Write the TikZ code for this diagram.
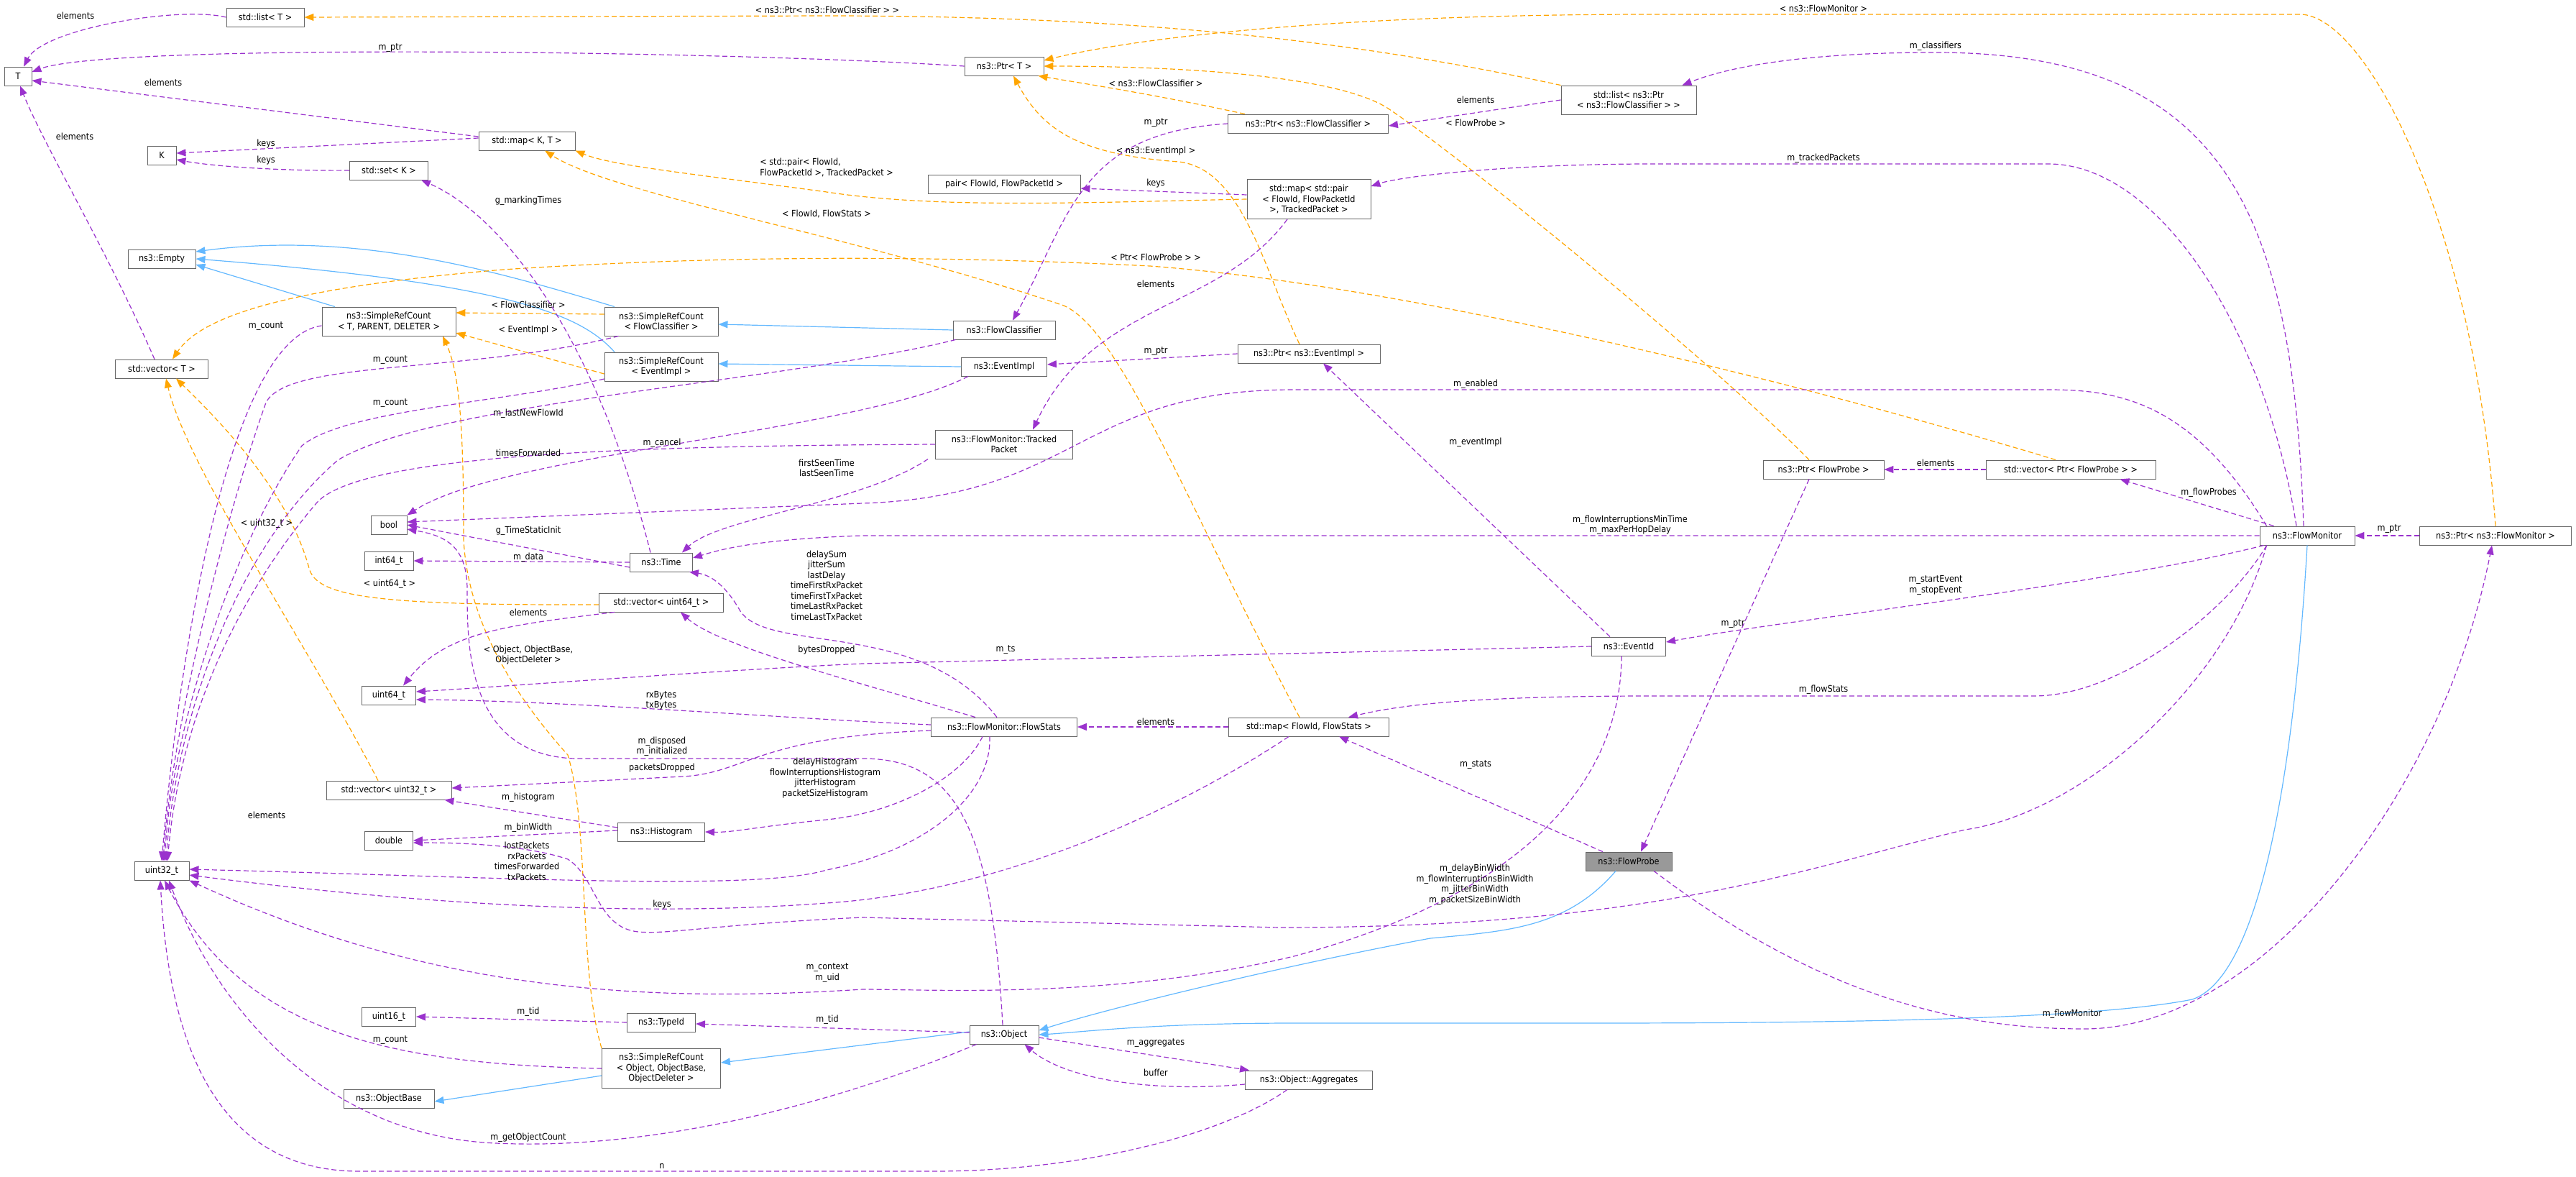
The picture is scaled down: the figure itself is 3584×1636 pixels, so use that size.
\documentclass[tikz,border=0pt]{standalone}
\usepackage{fontspec}
\setmainfont{DejaVu Sans Condensed}
\usetikzlibrary{arrows.meta}
\definecolor{mem}{HTML}{9A32CD}
\definecolor{tpl}{HTML}{FFA500}
\definecolor{inh}{HTML}{63B8FF}
\begin{document}
\begin{tikzpicture}[x=1pt,y=-1pt,
 every node/.style={font=\fontsize{12.5}{14.5}\selectfont},
 box/.style={draw=black!60,fill=white,line width=0.9pt,inner xsep=2pt,inner ysep=2pt,minimum height=26pt,align=center},
 boxb/.style={box,minimum height=40pt},
 boxc/.style={box,minimum height=55pt},
 lbl/.style={inner sep=0pt,align=center},
 memb/.style={draw=mem,line width=1.2pt,dash pattern=on 7pt off 4pt,-{Triangle[length=13pt,width=10pt,fill=mem]}},
 tmpl/.style={draw=tpl,line width=1.2pt,dash pattern=on 7pt off 4pt,-{Triangle[length=13pt,width=10pt,fill=tpl]}},
 inher/.style={draw=inh,line width=1.2pt,-{Triangle[length=13pt,width=10pt,fill=inh]}}]
\useasboundingbox (0,0) rectangle (3584,1636);
% nodes
\node[box,minimum width=108pt] (stdlist) at (369,24) {std::list< T >};
\node[box,minimum width=38pt] (T) at (25,106) {T};
\node[box,minimum width=40pt] (K) at (225,216) {K};
\node[box,minimum width=134pt] (mapKT) at (733,196) {std::map< K, T >};
\node[box,minimum width=109pt] (setK) at (541,237) {std::set< K >};
\node[box,minimum width=94pt] (Empty) at (225,360) {ns3::Empty};
\node[boxb,minimum width=186pt] (srcT) at (541,447) {ns3::SimpleRefCount\\< T, PARENT, DELETER >};
\node[boxb,minimum width=158pt] (srcFC) at (920,447) {ns3::SimpleRefCount\\< FlowClassifier >};
\node[boxb,minimum width=158pt] (srcEI) at (920,510) {ns3::SimpleRefCount\\< EventImpl >};
\node[box,minimum width=129pt] (vecT) at (225,513) {std::vector< T >};
\node[box,minimum width=50pt] (bool) at (541,730) {bool};
\node[box,minimum width=68pt] (int64) at (541,780) {int64\_t};
\node[box,minimum width=87pt] (Time) at (920,782) {ns3::Time};
\node[box,minimum width=173pt] (vecU64) at (920,838) {std::vector< uint64\_t >};
\node[box,minimum width=75pt] (uint64) at (541,967) {uint64\_t};
\node[box,minimum width=174pt] (vecU32) at (541,1099) {std::vector< uint32\_t >};
\node[box,minimum width=121pt] (Hist) at (920,1157) {ns3::Histogram};
\node[box,minimum width=67pt] (double) at (541,1169) {double};
\node[box,minimum width=76pt] (uint32) at (225,1211) {uint32\_t};
\node[box,minimum width=75pt] (uint16) at (541,1414) {uint16\_t};
\node[box,minimum width=95pt] (TypeId) at (920,1422) {ns3::TypeId};
\node[boxc,minimum width=165pt] (srcObj) at (920,1486) {ns3::SimpleRefCount\\< Object, ObjectBase,\\ObjectDeleter >};
\node[box,minimum width=126pt] (ObjBase) at (541,1528) {ns3::ObjectBase};
\node[box,minimum width=110pt] (PtrT) at (1397,92) {ns3::Ptr< T >};
\node[box,minimum width=223pt] (PtrFC) at (1820,172) {ns3::Ptr< ns3::FlowClassifier >};
\node[boxb,minimum width=188pt] (listFC) at (2266,139) {std::list< ns3::Ptr\\< ns3::FlowClassifier > >};
\node[box,minimum width=212pt] (pair) at (1397,256) {pair< FlowId, FlowPacketId >};
\node[boxc,minimum width=172pt] (mapPair) at (1821,277) {std::map< std::pair\\< FlowId, FlowPacketId\\>, TrackedPacket >};
\node[box,minimum width=142pt] (FC) at (1397,459) {ns3::FlowClassifier};
\node[box,minimum width=119pt] (EI) at (1397,510) {ns3::EventImpl};
\node[box,minimum width=198pt] (PtrEI) at (1821,492) {ns3::Ptr< ns3::EventImpl >};
\node[boxb,minimum width=191pt] (TP) at (1397,618) {ns3::FlowMonitor::Tracked\\Packet};
\node[box,minimum width=103pt] (EventId) at (2266,899) {ns3::EventId};
\node[box,minimum width=203pt] (FS) at (1397,1011) {ns3::FlowMonitor::FlowStats};
\node[box,minimum width=223pt] (mapFS) at (1821,1011) {std::map< FlowId, FlowStats >};
\node[box,minimum width=120pt,fill=black!40] (FP) at (2266,1198) {ns3::FlowProbe};
\node[box,minimum width=96pt] (Obj) at (1397,1439) {ns3::Object};
\node[box,minimum width=177pt] (Agg) at (1821,1502) {ns3::Object::Aggregates};
\node[box,minimum width=168pt] (PtrFP) at (2537,653) {ns3::Ptr< FlowProbe >};
\node[box,minimum width=236pt] (vecFP) at (2881,653) {std::vector< Ptr< FlowProbe > >};
\node[box,minimum width=132pt] (FM) at (3210,745) {ns3::FlowMonitor};
\node[box,minimum width=211pt] (PtrFM) at (3472,745) {ns3::Ptr< ns3::FlowMonitor >};
% blue inheritance
\draw[inher] ([xshift=-75pt]srcT.north) -- ([yshift=-8pt]Empty.east);
\draw[inher] ([xshift=-65pt]srcFC.north) .. controls (700,380) and (500,320) .. ([yshift=10pt]Empty.east);
\draw[inher] ([xshift=-65pt]srcEI.north) .. controls (810,440) and (720,395) .. (Empty.east);
\draw[inher] (FC.west) -- ([yshift=-4pt]srcFC.east);
\draw[inher] (EI.west) -- ([yshift=4pt]srcEI.east);
\draw[inher] ([yshift=-10pt]srcObj.west) -- ([yshift=-4pt]ObjBase.east);
\draw[inher] ([yshift=4pt]Obj.west) -- ([yshift=8pt]srcObj.east);
\draw[inher] ([xshift=-18pt]FP.south) .. controls (2180,1290) and (2100,1295) .. (1990,1305) .. controls (1800,1340) and (1550,1400) .. ([yshift=6pt]Obj.east);
\draw[inher] (FM.south) .. controls (3190,1100) and (3140,1360) .. (3050,1390) .. controls (2900,1420) and (2500,1423) .. (2200,1423) -- (1800,1423) .. controls (1600,1423) and (1500,1436) .. (Obj.east);
% orange template
\draw[tmpl] (listFC.north west) .. controls (1900,60) and (1600,22) .. (1150,22) -- (stdlist.east);
\draw[tmpl] (PtrFM.north) .. controls (3440,300) and (3290,20) .. (3200,20) -- (2300,20) .. controls (1800,20) and (1550,60) .. ([yshift=8pt]PtrT.east);
\draw[tmpl] ([xshift=-88pt]PtrFC.north) .. controls (1600,130) and (1500,115) .. ([xshift=-8pt]PtrT.south east);
\draw[tmpl] ([xshift=-13pt]PtrEI.north) .. controls (1760,380) and (1730,235) .. (1640,225) .. controls (1500,215) and (1450,180) .. ([xshift=13pt]PtrT.south);
\draw[tmpl] ([xshift=-20pt]PtrFP.north) .. controls (2400,520) and (2050,230) .. (1930,150) .. controls (1850,100) and (1600,92) .. (PtrT.east);
\draw[tmpl] (mapPair.west) .. controls (1500,282) and (1300,290) .. (1150,267) .. controls (950,240) and (850,230) .. (mapKT.south east);
\draw[tmpl] ([xshift=-13pt]mapFS.north) .. controls (1650,700) and (1560,460) .. (1480,425) .. controls (1200,330) and (850,270) .. ([xshift=25pt]mapKT.south);
\draw[tmpl] ([xshift=-21pt]vecFP.north) .. controls (2600,560) and (2000,400) .. (1600,370) .. controls (1300,355) and (1000,355) .. (700,375) .. controls (400,400) and (280,440) .. ([xshift=15pt]vecT.north);
\draw[tmpl] ([yshift=10pt]srcFC.west) -- ([yshift=12pt]srcT.east);
\draw[tmpl] ([yshift=-10pt]srcFC.west|-srcEI.west) -- ([yshift=-16pt]srcT.east);
\draw[tmpl] ([xshift=-15pt]vecU32.north) .. controls (430,900) and (260,650) .. ([xshift=6pt]vecT.south);
\draw[tmpl] ([yshift=-3pt]vecU64.west) .. controls (520,842) and (440,830) .. (430,790) .. controls (400,680) and (300,580) .. ([xshift=20pt]vecT.south);
\draw[tmpl] (srcObj.north west) .. controls (805,1350) and (820,1150) .. (790,1050) .. controls (700,950) and (650,850) .. (645,750) .. controls (645,600) and (640,520) .. ([xshift=75pt]srcT.south);
% purple members
\draw[memb] (stdlist.west) .. controls (250,8) and (60,40) .. ([xshift=8pt]T.north);
\draw[memb] (PtrT.west) .. controls (1000,70) and (150,60) .. ([yshift=6pt]T.east);
\draw[memb] ([yshift=6pt]mapKT.west) -- ([yshift=-6pt]T.east);
\draw[memb] ([xshift=-10pt]vecT.north) .. controls (150,350) and (60,200) .. ([xshift=3pt]T.south);
\draw[memb] ([yshift=4pt]mapKT.west) -- ([yshift=3pt]K.east);
\draw[memb] (setK.west) .. controls (400,238) and (300,232) .. ([yshift=-6pt]K.east);
\draw[memb] ([xshift=-15pt]Time.north) .. controls (830,470) and (700,300) .. ([xshift=45pt]setK.south);
\draw[memb] ([yshift=-6pt]srcT.west) .. controls (320,470) and (250,900) .. ([xshift=0pt]uint32.north);
\draw[memb] ([xshift=20pt]srcFC.south west) .. controls (650,520) and (400,500) .. (370,560) .. controls (320,700) and (240,1000) .. ([xshift=2pt]uint32.north);
\draw[memb] ([yshift=-17pt]srcEI.west) .. controls (700,560) and (480,570) .. (420,620) .. controls (330,750) and (240,1000) .. ([xshift=4pt]uint32.north);
\draw[memb] ([xshift=4pt]FC.south west) .. controls (1100,530) and (600,560) .. (470,640) .. controls (330,760) and (245,1000) .. ([xshift=6pt]uint32.north);
\draw[memb] (TP.west) .. controls (900,620) and (500,630) .. (440,700) .. controls (330,830) and (250,1000) .. ([xshift=8pt]uint32.north);
\draw[memb] ([xshift=10pt]EI.south west) .. controls (1200,600) and (700,630) .. (bool.north east);
\draw[memb] ([xshift=10pt]FM.north west) .. controls (3050,560) and (2950,542) .. (2850,542) -- (1800,542) .. controls (1500,542) and (1500,690) .. (1200,700) -- ([yshift=4pt]bool.east);
\draw[memb] ([yshift=-7pt]Time.west) -- (bool.east);
\draw[memb] ([xshift=-2pt]Obj.north) .. controls (1380,1150) and (1330,1055) .. (1200,1055) -- (800,1055) .. controls (650,1050) and (650,900) .. (650,820) .. controls (650,760) and (620,745) .. ([yshift=-6pt]bool.east);
\draw[memb] (Time.west) -- (int64.east);
\draw[memb] ([xshift=-10pt]TP.south west) .. controls (1200,700) and (1000,720) .. ([xshift=-15pt]Time.north east);
\draw[memb] (FM.west) -- (1200,745) .. controls (1050,750) and (1000,765) .. ([yshift=6pt]Time.east);
\draw[memb] ([xshift=-10pt]FS.north) .. controls (1280,860) and (1070,910) .. (1030,850) .. controls (1010,815) and (990,800) .. ([xshift=-5pt]Time.south east);
\draw[memb] ([xshift=-40pt]FS.north) .. controls (1200,950) and (1000,900) .. ([xshift=-60pt]vecU64.south east);
\draw[memb] ([xshift=-65pt]vecU64.south) .. controls (700,870) and (620,880) .. ([xshift=20pt]uint64.north);
\draw[memb] (EventId.west) -- (1200,923) .. controls (1000,932) and (700,955) .. ([yshift=5pt]uint64.east);
\draw[memb] ([yshift=3pt]FS.west) .. controls (1100,1000) and (800,975) .. ([yshift=-6pt]uint64.east);
\draw[memb] ([yshift=-5pt]FS.west) .. controls (1050,1025) and (1040,1075) .. (950,1080) -- ([yshift=3pt]vecU32.east);
\draw[memb] ([yshift=6pt]Hist.west) -- ([xshift=-10pt]vecU32.south east);
\draw[memb] ([yshift=2pt]Hist.west) -- (double.east);
\draw[memb] ([xshift=10pt]FM.south west) .. controls (3100,950) and (2900,1130) .. (2734,1154) .. controls (2500,1210) and (2300,1290) .. (1780,1290) -- (1200,1276) .. controls (1000,1285) and (930,1300) .. (888,1296) .. controls (830,1290) and (830,1220) .. (790,1195) .. controls (730,1175) and (640,1172) .. ([yshift=-3pt]double.east);
\draw[memb] ([xshift=-30pt]FS.south) .. controls (1340,1080) and (1250,1130) .. (1150,1140) .. controls (1050,1150) and (1020,1158) .. (Hist.east);
\draw[memb] ([xshift=-20pt]FS.south) .. controls (1380,1100) and (1300,1180) .. (1150,1210) .. controls (1050,1240) and (700,1220) .. ([yshift=2pt]uint32.east);
\draw[memb] ([xshift=-28pt]mapFS.south) .. controls (1650,1120) and (1400,1240) .. (1150,1256) .. controls (900,1275) and (600,1260) .. ([yshift=-6pt]uint32.east);
\draw[memb] ([xshift=-10pt]EventId.south) .. controls (2255,1100) and (2100,1250) .. (1800,1330) .. controls (1550,1390) and (1300,1376) .. (1200,1376) .. controls (900,1395) and (600,1380) .. (uint32.south east);
\draw[memb] (TypeId.west) -- (uint16.east);
\draw[memb] ([yshift=3pt]Obj.west) -- ([yshift=-2pt]TypeId.east);
\draw[memb] (srcObj.west) .. controls (550,1480) and (340,1440) .. ([xshift=4pt]uint32.south);
\draw[memb] ([xshift=10pt]Obj.south west) .. controls (1150,1540) and (900,1600) .. (690,1590) .. controls (450,1580) and (300,1400) .. ([xshift=10pt]uint32.south);
\draw[memb] ([xshift=-30pt]Agg.south) .. controls (1700,1580) and (1500,1629) .. (1300,1629) -- (500,1629) .. controls (300,1629) and (235,1450) .. ([xshift=-2pt]uint32.south);
\draw[memb] ([yshift=-4pt]Obj.east) -- ([xshift=6pt]Agg.north west);
\draw[memb] ([yshift=-6pt]Agg.west) .. controls (1600,1520) and (1480,1500) .. ([xshift=-20pt]Obj.south east);
\draw[memb] (mapFS.west) -- (FS.east);
\draw[memb] ([xshift=-36pt]FP.north) -- ([xshift=-70pt]mapFS.south east);
\draw[memb] ([xshift=10pt]FM.south west) .. controls (3100,850) and (2950,968) .. (2830,968) -- (2300,968) .. controls (2050,968) and (1950,980) .. ([xshift=55pt]mapFS.north);
\draw[memb] ([xshift=-26pt]EventId.north) -- ([xshift=20pt]PtrEI.south);
\draw[memb] ([xshift=6pt]FM.south west) .. controls (2950,810) and (2500,860) .. ([yshift=6pt]EventId.east);
\draw[memb] ([xshift=-20pt]PtrFP.south) -- ([xshift=17pt]FP.north);
\draw[memb] (vecFP.west) -- (PtrFP.east);
\draw[memb] ([xshift=20pt]FM.north west) -- ([xshift=-50pt]vecFP.south east);
\draw[memb] (PtrFM.west) -- (FM.east);
\draw[memb] ([xshift=35pt]FP.south) .. controls (2550,1400) and (2750,1431) .. (2900,1431) .. controls (3150,1431) and (3400,1100) .. ([xshift=-5pt]PtrFM.south);
\draw[memb] ([xshift=-15pt]FM.north) .. controls (3150,450) and (3000,228) .. (2850,228) -- (2300,228) .. controls (2100,228) and (1950,245) .. ([yshift=18pt]mapPair.east);
\draw[memb] ([xshift=-5pt]FM.north) .. controls (3190,300) and (3100,73) .. (2693,73) .. controls (2500,73) and (2400,95) .. ([xshift=-20pt]listFC.north east);
\draw[memb] (listFC.west) -- ([yshift=-3pt]PtrFC.east);
\draw[memb] (PtrFC.west) .. controls (1500,185) and (1490,300) .. ([xshift=12pt]FC.north);
\draw[memb] ([yshift=6pt]mapPair.west) -- ([yshift=-6pt]pair.east);
\draw[memb] ([xshift=-30pt]mapPair.south) .. controls (1700,430) and (1520,420) .. ([xshift=40pt]TP.north);
\draw[memb] (PtrEI.west) -- ([yshift=3pt]EI.east);
% labels
\node[lbl] (l1) at (1151,14) {< ns3::Ptr< ns3::FlowClassifier > >};
\node[lbl] (l2) at (105,22) {elements};
\node[lbl] (l3) at (543,67) {m\_ptr};
\node[lbl] (l4) at (227,115) {elements};
\node[lbl] (l5) at (104,190) {elements};
\node[lbl] (l6) at (370,200) {keys};
\node[lbl] (l7) at (370,223) {keys};
\node[lbl] (l8) at (735,279) {g\_markingTimes};
\node[lbl,align=left] (l9) at (1150,233) {< std::pair< FlowId,\\FlowPacketId >, TrackedPacket >};
\node[lbl] (l10) at (1150,297) {< FlowId, FlowStats >};
\node[lbl] (l11) at (735,424) {< FlowClassifier >};
\node[lbl] (l12) at (735,459) {< EventImpl >};
\node[lbl] (l13) at (370,454) {m\_count};
\node[lbl] (l14) at (543,501) {m\_count};
\node[lbl] (l15) at (543,561) {m\_count};
\node[lbl] (l16) at (735,575) {m\_lastNewFlowId};
\node[lbl] (l17) at (921,616) {m\_cancel};
\node[lbl] (l18) at (735,630) {timesForwarded};
\node[lbl] (l19) at (1150,651) {firstSeenTime\\lastSeenTime};
\node[lbl] (l20) at (371,728) {< uint32\_t >};
\node[lbl] (l21) at (735,738) {g\_TimeStaticInit};
\node[lbl] (l22) at (735,775) {m\_data};
\node[lbl] (l23) at (1150,814) {delaySum\\jitterSum\\lastDelay\\timeFirstRxPacket\\timeFirstTxPacket\\timeLastRxPacket\\timeLastTxPacket};
\node[lbl] (l24) at (542,812) {< uint64\_t >};
\node[lbl] (l25) at (735,852) {elements};
\node[lbl] (l26) at (735,911) {< Object, ObjectBase,\\ObjectDeleter >};
\node[lbl] (l27) at (1150,904) {bytesDropped};
\node[lbl] (l28) at (920,974) {rxBytes\\txBytes};
\node[lbl] (l29) at (921,1038) {m\_disposed\\m\_initialized};
\node[lbl] (l30) at (921,1068) {packetsDropped};
\node[lbl] (l31) at (1148,1082) {delayHistogram\\flowInterruptionsHistogram\\jitterHistogram\\packetSizeHistogram};
\node[lbl] (l32) at (735,1109) {m\_histogram};
\node[lbl] (l33) at (371,1134) {elements};
\node[lbl] (l34) at (735,1151) {m\_binWidth};
\node[lbl] (l35) at (733,1198) {lostPackets\\rxPackets\\timesForwarded\\txPackets};
\node[lbl] (l36) at (921,1258) {keys};
\node[lbl] (l37) at (1151,1353) {m\_context\\m\_uid};
\node[lbl] (l38) at (735,1407) {m\_tid};
\node[lbl] (l39) at (1151,1418) {m\_tid};
\node[lbl] (l40) at (543,1447) {m\_count};
\node[lbl] (l41) at (735,1582) {m\_getObjectCount};
\node[lbl] (l42) at (921,1622) {n};
\node[lbl] (l43) at (1608,116) {< ns3::FlowClassifier >};
\node[lbl] (l44) at (2053,139) {elements};
\node[lbl] (l45) at (1608,171) {m\_ptr};
\node[lbl] (l46) at (2053,171) {< FlowProbe >};
\node[lbl] (l47) at (1608,210) {< ns3::EventImpl >};
\node[lbl] (l48) at (1608,255) {keys};
\node[lbl] (l49) at (1608,358) {< Ptr< FlowProbe > >};
\node[lbl] (l50) at (1608,395) {elements};
\node[lbl] (l51) at (1608,489) {m\_ptr};
\node[lbl] (l52) at (2053,534) {m\_enabled};
\node[lbl] (l53) at (2053,615) {m\_eventImpl};
\node[lbl] (l54) at (2268,730) {m\_flowInterruptionsMinTime\\m\_maxPerHopDelay};
\node[lbl] (l55) at (1399,904) {m\_ts};
\node[lbl] (l56) at (1608,1004) {elements};
\node[lbl] (l57) at (2053,1064) {m\_stats};
\node[lbl] (l58) at (2052,1230) {m\_delayBinWidth\\m\_flowInterruptionsBinWidth\\m\_jitterBinWidth\\m\_packetSizeBinWidth};
\node[lbl] (l59) at (1608,1451) {m\_aggregates};
\node[lbl] (l60) at (1608,1492) {buffer};
\node[lbl] (l61) at (2537,12) {< ns3::FlowMonitor >};
\node[lbl] (l62) at (2693,64) {m\_classifiers};
\node[lbl] (l63) at (2537,220) {m\_trackedPackets};
\node[lbl] (l64) at (2693,644) {elements};
\node[lbl] (l65) at (3073,685) {m\_flowProbes};
\node[lbl] (l66) at (3324,736) {m\_ptr};
\node[lbl] (l67) at (2693,814) {m\_startEvent\\m\_stopEvent};
\node[lbl] (l68) at (2411,868) {m\_ptr};
\node[lbl] (l69) at (2537,959) {m\_flowStats};
\node[lbl] (l70) at (2883,1410) {m\_flowMonitor};
\end{tikzpicture}
\end{document}
